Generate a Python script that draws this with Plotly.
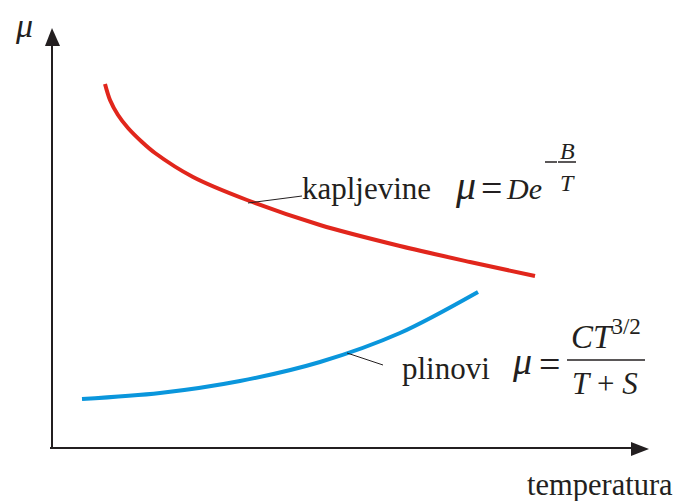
import plotly.graph_objects as go

# Schematic data (arbitrary units: temperature, viscosity)
liquid_T = [105, 110, 118, 128, 142, 155, 193, 247, 320, 400, 470, 535]
liquid_mu = [417, 401, 386, 373, 359, 348, 324, 301, 276, 255, 239, 225]
gas_T = [82, 160, 240, 320, 400, 478]
gas_mu = [102, 108, 120, 139, 168, 209]

RED = "#E1261C"
BLUE = "#0A96DC"
INK = "#231F20"
SERIF = "Liberation Serif, Times New Roman, serif"

fig = go.Figure()
fig.add_trace(go.Scatter(x=liquid_T, y=liquid_mu, mode="lines",
                         line=dict(color=RED, width=4, shape="spline", smoothing=0.9),
                         hoverinfo="skip", showlegend=False))
fig.add_trace(go.Scatter(x=gas_T, y=gas_mu, mode="lines",
                         line=dict(color=BLUE, width=4, shape="spline", smoothing=0.9),
                         hoverinfo="skip", showlegend=False))

shapes = [
    # axes
    dict(type="line", x0=52, y0=53, x1=52, y1=460, line=dict(color=INK, width=2)),
    dict(type="line", x0=50, y0=53, x1=636, y1=53, line=dict(color=INK, width=2)),
    dict(type="path", path="M 52 473 L 45 455 L 60 455 Z", fillcolor=INK, line=dict(width=0)),
    dict(type="path", path="M 649 52 L 631 45 L 631 59 Z", fillcolor=INK, line=dict(width=0)),
    # leader lines
    dict(type="line", x0=248, y0=298, x1=302, y1=305, line=dict(color=INK, width=1)),
    dict(type="line", x0=347, y0=148, x1=383, y1=136, line=dict(color=INK, width=1)),
    # fraction bars
    dict(type="line", x0=545, y0=339, x1=557, y1=339, line=dict(color=INK, width=1.5)),
    dict(type="line", x0=558, y0=339, x1=576, y1=339, line=dict(color=INK, width=1.5)),
    dict(type="line", x0=567, y0=141, x1=645, y1=141, line=dict(color=INK, width=1.5)),
]

def txt(x, y, s, size, anchor="left", italic=False, family=SERIF):
    if italic:
        s = "<i>" + s + "</i>"
    return dict(x=x, y=y, xref="x", yref="y", text=s, showarrow=False,
                xanchor=anchor, yanchor="middle",
                font=dict(family=family, size=size, color=INK))

annotations = [
    txt(24, 476, "μ", 34, "center", True),
    txt(600, 16, "temperatura", 30.5, "center"),
    txt(300, 313, "kapljevine", 31),
    txt(465, 316, "μ", 40, "center", True),
    txt(491, 313, "=", 38, "center"),
    txt(504, 313, "<i>De</i>", 30),
    txt(567, 350, "B", 24, "center", True),
    txt(567, 318, "T", 24, "center", True),
    txt(400, 133, "plinovi", 31),
    txt(522, 140, "μ", 38, "center", True),
    txt(549, 137, "=", 38, "center"),
    txt(606, 167, "<i>CT</i><sup>3/2</sup>", 33, "center"),
    txt(605, 118, "<i>T</i> + <i>S</i>", 31, "center"),
]

# the page body adds an 8 px offset; shift the ranges so units match the picture
fig.update_layout(
    width=681, height=501,
    margin=dict(l=0, r=0, t=0, b=0),
    paper_bgcolor="white", plot_bgcolor="white",
    xaxis=dict(range=[8, 689], visible=False, fixedrange=True),
    yaxis=dict(range=[-8, 493], visible=False, fixedrange=True),
    shapes=shapes, annotations=annotations,
)
fig.write_html("out.html")
